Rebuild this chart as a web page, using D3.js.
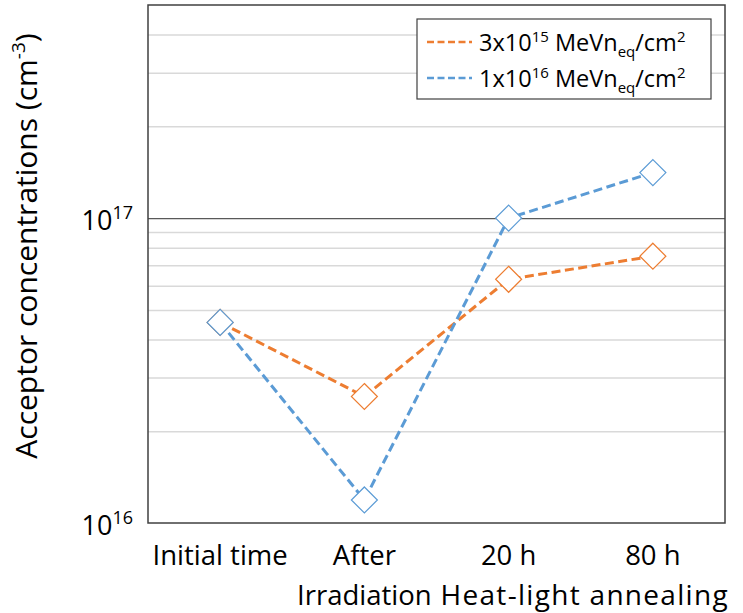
<!DOCTYPE html>
<html>
<head>
<meta charset="utf-8">
<script src="https://cdn.jsdelivr.net/npm/d3@7"></script>
<style>
  body { margin: 0; background: #fff; }
  svg { display: block; font-family: "Open Sans", Lato, sans-serif; }
</style>
</head>
<body>
<svg id="chart" width="743" height="613"></svg>
<script>
// Stages of the measurement
const categories = ["Initial time", "After", "20 h", "80 h"];
const categorySecondLine = ["", "Irradiation", "", ""];
// Label spanning the two annealing stages
const groupLabel = { text: "Heat-light annealing", from: "20 h", to: "80 h" };

// Acceptor concentrations (cm^-3) per fluence
const fluenceLow = [4.55e16, 2.6e16, 6.3e16, 7.5e16];   // 3x10^15 MeVneq/cm^2
const fluenceHigh = [4.55e16, 1.19e16, 1.0e17, 1.41e17]; // 1x10^16 MeVneq/cm^2

const seriesNames = [
  { base: "3x10", exp: "15" },
  { base: "1x10", exp: "16" }
];
const majorTicks = [1e16, 1e17];
const minorTicks = [2e16, 3e16, 4e16, 5e16, 6e16, 7e16, 8e16, 9e16, 2e17, 3e17, 4e17];

const colors = ["#ED7D31", "#5B9BD5"];

const svg = d3.select("#chart");
const plotLeft = 148, plotRight = 725, plotTop = 5, plotBottom = 523;

const x = d3.scalePoint().domain(categories).range([plotLeft, plotRight]).padding(0.5);
const y = d3.scaleLog().domain([1e16, 5e17]).range([plotBottom, plotTop]);

// minor gridlines
svg.append("g")
  .attr("transform", `translate(${plotLeft},0)`)
  .call(d3.axisLeft(y).tickValues(minorTicks).tickSize(-(plotRight - plotLeft)).tickFormat(""))
  .call(g => g.select(".domain").remove())
  .call(g => g.selectAll(".tick line").attr("stroke", "#d9d9d9").attr("stroke-width", 1.5));

// major gridline at 10^17
svg.append("g")
  .attr("transform", `translate(${plotLeft},0)`)
  .call(d3.axisLeft(y).tickValues([1e17]).tickSize(-(plotRight - plotLeft)).tickFormat(""))
  .call(g => g.select(".domain").remove())
  .call(g => g.selectAll(".tick line").attr("stroke", "#595959").attr("stroke-width", 1.3));

// plot frame
svg.append("rect")
  .attr("x", plotLeft).attr("y", plotTop)
  .attr("width", plotRight - plotLeft).attr("height", plotBottom - plotTop)
  .attr("fill", "none").attr("stroke", "#404040").attr("stroke-width", 1.5);

// y tick labels with superscript exponents
const yLabels = svg.append("g");
majorTicks.forEach(v => {
  const t = yLabels.append("text")
    .attr("x", 133).attr("y", y(v) + 12)
    .attr("text-anchor", "end")
    .attr("font-size", 27).attr("fill", "#000");
  t.append("tspan").text("10");
  t.append("tspan").attr("dy", -11).attr("font-size", 18).text(String(Math.round(Math.log10(v))));
});

// y axis title
const yt = svg.append("text")
  .attr("transform", "translate(37,246) rotate(-90)")
  .attr("text-anchor", "middle")
  .attr("font-size", 30).attr("fill", "#000");
yt.append("tspan").text("Acceptor concentrations (cm");
yt.append("tspan").attr("dy", -12).attr("font-size", 19).text("-3");
yt.append("tspan").attr("dy", 12).text(")");

// category labels
const xl = svg.append("g").attr("font-size", 27.5).attr("fill", "#000").attr("text-anchor", "middle");
categories.forEach((c, i) => {
  xl.append("text").attr("x", x(c)).attr("y", 565).text(c);
  if (categorySecondLine[i]) xl.append("text").attr("x", x(c)).attr("y", 605).text(categorySecondLine[i]);
});
xl.append("text")
  .attr("x", (x(groupLabel.from) + x(groupLabel.to)) / 2 + 4)
  .attr("y", 605)
  .attr("font-size", 28)
  .attr("letter-spacing", 1.3)
  .text(groupLabel.text);

// series
const line = d3.line().x((d, i) => x(categories[i])).y(d => y(d));
const diamond = d => `M0,${-d} L${d},0 L0,${d} L${-d},0 Z`;

[fluenceLow, fluenceHigh].forEach((vals, si) => {
  const g = svg.append("g");
  g.append("path")
    .datum(vals)
    .attr("d", line)
    .attr("fill", "none")
    .attr("stroke", colors[si])
    .attr("stroke-width", 3)
    .attr("stroke-dasharray", "9,4.5");
  g.selectAll("path.mk")
    .data(vals)
    .join("path")
    .attr("class", "mk")
    .attr("transform", (d, i) => `translate(${x(categories[i])},${y(d)})`)
    .attr("d", diamond(13))
    .attr("fill", "#fff")
    .attr("stroke", colors[si])
    .attr("stroke-width", 1.2);
});

// legend
const lg = svg.append("g");
lg.append("rect")
  .attr("x", 417).attr("y", 19).attr("width", 294).attr("height", 80)
  .attr("fill", "#fff").attr("stroke", "#404040").attr("stroke-width", 1.2);
seriesNames.forEach((s, i) => {
  const cy = 42 + i * 36;
  lg.append("line")
    .attr("x1", 427).attr("x2", 472).attr("y1", cy).attr("y2", cy)
    .attr("stroke", colors[i]).attr("stroke-width", 2.5).attr("stroke-dasharray", "7,3.5");
  const t = lg.append("text").attr("x", 479).attr("y", cy + 9)
    .attr("font-size", 23.5).attr("fill", "#000");
  t.append("tspan").text(s.base);
  t.append("tspan").attr("dy", -9).attr("font-size", 15).text(s.exp);
  t.append("tspan").attr("dy", 9).text(" MeVn");
  t.append("tspan").attr("dy", 6).attr("font-size", 15).text("eq");
  t.append("tspan").attr("dy", -6).text("/cm");
  t.append("tspan").attr("dy", -9).attr("font-size", 15).text("2");
});
</script>
</body>
</html>
